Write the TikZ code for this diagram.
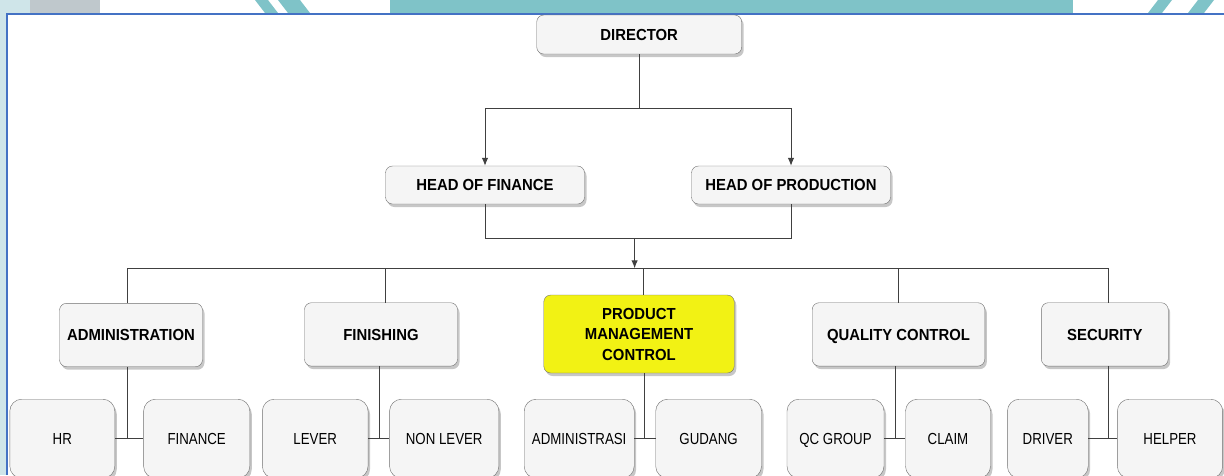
\documentclass[tikz,border=0pt]{standalone}
\usepackage{fontspec}
\setmainfont{Liberation Sans}[FakeStretch=0.83,BoldFeatures={FakeStretch=0.93}]
\usepackage{tikz}
\usetikzlibrary{arrows.meta, shadows}

\definecolor{boxgray}{HTML}{F5F5F5}
\definecolor{edgegray}{HTML}{6E6E6E}
\definecolor{pmcyellow}{HTML}{F2F214}
\definecolor{frameblue}{HTML}{4472C4}
\definecolor{marksea}{HTML}{7FC3C8}
\definecolor{marklight}{HTML}{CFE5E9}
\definecolor{markgray}{HTML}{BFC8CC}

\tikzset{
  unit/.style={draw=edgegray, fill=boxgray, rounded corners=7pt, align=center, inner sep=0pt,
    text height=11.6pt, text depth=0pt,
    font=\fontsize{16}{20.5}\selectfont\bfseries,
    drop shadow={shadow xshift=2pt, shadow yshift=-3pt, fill=black, opacity=0.22}},
  staff/.style={unit, rounded corners=12pt, minimum height=79pt, font=\fontsize{16}{20.5}\selectfont},
  link/.style={draw=black!75, line width=1pt},
  linkarrow/.style={link, -{Latex[length=8pt,width=6.5pt]}}
}

\begin{document}
\begin{tikzpicture}[x=1pt,y=-1pt]
\useasboundingbox (0,0) rectangle (1224,475);
% page behind the chart
\fill[white] (0,0) rectangle (1224,475);
\fill[marklight] (0,0) rectangle (30,13);
\fill[markgray] (30,0) rectangle (100,13);
\fill[marklight] (0,13) rectangle (6,475);
\fill[marksea] (255,0) -- (268,0) -- (278,13) -- (265,13) -- cycle;
\fill[marksea] (278,0) -- (300,0) -- (310,13) -- (288,13) -- cycle;
\fill[marksea] (390,0) rectangle (1073,13);
\fill[marksea] (1158,0) -- (1172,0) -- (1162,13) -- (1148,13) -- cycle;
\fill[marksea] (1198,0) -- (1214,0) -- (1204,13) -- (1188,13) -- cycle;
\draw[frameblue, line width=2pt] (7,475) -- (7,13.5) -- (1224,13.5);

% heads
\node[unit, minimum width=205pt, minimum height=39pt] (director) at (639.2,34.5) {DIRECTOR};
\node[unit, minimum width=199pt, minimum height=38pt] (hfinance) at (485,185) {HEAD OF FINANCE};
\node[unit, minimum width=199pt, minimum height=38pt] (hproduction) at (791,185) {HEAD OF PRODUCTION};

% departments
\node[unit, minimum width=143pt, minimum height=63.4pt] (admin) at (131,335) {ADMINISTRATION};
\node[unit, minimum width=153pt, minimum height=63.4pt] (finishing) at (381,334.4) {FINISHING};
\node[unit, fill=pmcyellow, text height={}, text depth={}, minimum width=190.5pt, minimum height=78pt]
  (pmc) at (639,334) {PRODUCT\\MANAGEMENT\\CONTROL};
\node[unit, minimum width=172.6pt, minimum height=63.4pt] (qc) at (898.5,334.4) {QUALITY CONTROL};
\node[unit, minimum width=126.8pt, minimum height=63.4pt] (security) at (1104.8,334.4) {SECURITY};

% staff
\node[staff, minimum width=105pt] (hr) at (62.3,438.7) {HR};
\node[staff, minimum width=106.2pt] (finance) at (196.7,438.7) {FINANCE};
\node[staff, minimum width=105.7pt] (lever) at (315.2,438.7) {LEVER};
\node[staff, minimum width=109.3pt] (nonlever) at (444.2,438.7) {NON LEVER};
\node[staff, minimum width=110pt] (administrasi) at (579.2,438.7) {ADMINISTRASI};
\node[staff, minimum width=105.8pt] (gudang) at (708.6,438.7) {GUDANG};
\node[staff, minimum width=97pt] (qcgroup) at (835.5,438.7) {QC GROUP};
\node[staff, minimum width=85pt] (claim) at (948,438.7) {CLAIM};
\node[staff, minimum width=80.8pt] (driver) at (1047.8,438.7) {DRIVER};
\node[staff, minimum width=105.3pt] (helper) at (1170,438.7) {HELPER};

\coordinate (dsplit) at (639.2,108.7);
\coordinate (hjoin) at (634.6,238.3);
\coordinate (bus) at (634.6,268.3);

\draw[link] (director.south) -- (dsplit);
\draw[linkarrow] (dsplit) -| (hfinance.north);
\draw[linkarrow] (dsplit) -| (hproduction.north);
\draw[link] (hfinance.south) |- (hjoin);
\draw[link] (hproduction.south) |- (hjoin);
\draw[linkarrow] (hjoin) -- (bus);

\draw[link] ([xshift=-4pt]admin.north) |- (bus);
\draw[link] ([xshift=4.2pt]finishing.north) |- (bus);
\draw[link] ([xshift=4pt]pmc.north) |- (bus);
\draw[link] (qc.north) |- (bus);
\draw[link] ([xshift=4.1pt]security.north) |- (bus);

\draw[link] ([xshift=-4pt]admin.south) |- (hr.east);
\draw[link] (hr.east) -- (finance.west);
\draw[link] ([xshift=-2pt]finishing.south) |- (lever.east);
\draw[link] (lever.east) -- (nonlever.west);
\draw[link] ([xshift=5.4pt]pmc.south) |- (administrasi.east);
\draw[link] (administrasi.east) -- (gudang.west);
\draw[link] ([xshift=-2.7pt]qc.south) |- (qcgroup.east);
\draw[link] (qcgroup.east) -- (claim.west);
\draw[link] ([xshift=4.1pt]security.south) |- (driver.east);
\draw[link] (driver.east) -- (helper.west);
\end{tikzpicture}
\end{document}
